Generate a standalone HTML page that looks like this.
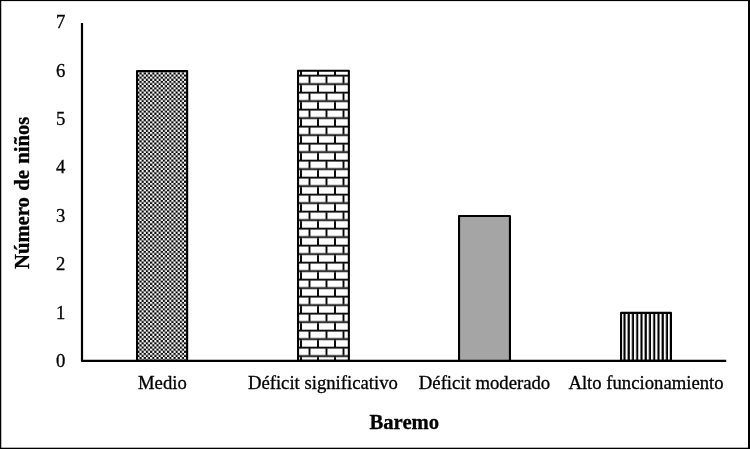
<!DOCTYPE html>
<html lang="es">
<head>
<meta charset="utf-8">
<title>Baremo</title>
<style>
  html, body { margin: 0; padding: 0; background: #fff; }
  body { width: 750px; height: 449px; overflow: hidden; }
  svg { display: block; }
  text { font-family: "Liberation Serif", "Times New Roman", serif; fill: #000; stroke: #000; stroke-width: 0.3px; font-variant-ligatures: none; }
  .tick { font-size: 18.7px; }
  .title { font-size: 20.7px; font-weight: bold; }
</style>
</head>
<body>
<svg width="750" height="449" viewBox="0 0 750 449">
  <defs>
    <!-- checkerboard -->
    <pattern id="chk" patternUnits="userSpaceOnUse" x="137.34" y="72.36" width="4.25" height="4.25">
      <rect x="0" y="0" width="4.25" height="4.25" fill="#fff"/>
      <rect x="2.125" y="0" width="2.125" height="2.125" fill="#000"/>
      <rect x="0" y="2.125" width="2.125" height="2.125" fill="#000"/>
    </pattern>
    <!-- bricks -->
    <pattern id="brk" patternUnits="userSpaceOnUse" x="298" y="56.7" width="17" height="17">
      <rect x="0" y="0" width="17" height="17" fill="#fff"/>
      <rect x="0" y="1" width="17" height="1.8" fill="#000"/>
      <rect x="0" y="9.5" width="17" height="1.8" fill="#000"/>
      <rect x="10.55" y="2.8" width="1.9" height="6.7" fill="#000"/>
      <rect x="2.05" y="11.3" width="1.9" height="5.7" fill="#000"/>
      <rect x="2.05" y="0" width="1.9" height="1" fill="#000"/>
    </pattern>
    <!-- vertical stripes -->
    <pattern id="vst" patternUnits="userSpaceOnUse" x="621.29" y="0" width="4.25" height="8">
      <rect x="0" y="0" width="4.25" height="8" fill="#000"/>
      <rect x="0" y="0" width="2.125" height="8" fill="#fff"/>
    </pattern>
  </defs>

  <rect x="0" y="0" width="750" height="449" fill="#fff"/>

  <!-- bars -->
  <rect x="137.05" y="71" width="50.1" height="290" fill="url(#chk)" stroke="#000" stroke-width="2.1" stroke-linejoin="round"/>
  <rect x="298.05" y="70.8" width="50.8" height="290" fill="url(#brk)" stroke="#000" stroke-width="2.1" stroke-linejoin="round"/>
  <rect x="459.05" y="216" width="50.9" height="145" fill="#a5a5a5" stroke="#000" stroke-width="2.1" stroke-linejoin="round"/>
  <rect x="621.05" y="312.9" width="49.9" height="48" fill="url(#vst)" stroke="#000" stroke-width="2.1" stroke-linejoin="round"/>

  <!-- axes -->
  <polyline points="82,23 82,360.9 726.2,360.9" fill="none" stroke="#000" stroke-width="2.2" stroke-linejoin="round"/>

  <!-- y tick labels -->
  <g class="tick" text-anchor="end">
    <text x="65.4" y="28.2">7</text>
    <text x="65.4" y="76.6">6</text>
    <text x="65.4" y="125.0">5</text>
    <text x="65.4" y="173.4">4</text>
    <text x="65.4" y="221.8">3</text>
    <text x="65.4" y="270.2">2</text>
    <text x="65.4" y="318.6">1</text>
    <text x="65.4" y="367.0">0</text>
  </g>

  <!-- x category labels -->
  <g class="tick" text-anchor="middle">
    <text x="162.4" y="389">Medio</text>
    <text x="322.9" y="389">Déficit significativo</text>
    <text x="484.5" y="389">Déficit moderado</text>
    <text x="646" y="389">Alto funcionamiento</text>
  </g>

  <!-- axis titles -->
  <text class="title" text-anchor="middle" x="404.3" y="428.6">Baremo</text>
  <text class="title" text-anchor="middle" word-spacing="1.1" transform="translate(28.7 192.85) rotate(-90)">Número de niños</text>

  <!-- outer frame -->
  <rect x="0" y="0" width="750" height="1.1" fill="#000"/>
  <rect x="0" y="0" width="1.25" height="449" fill="#000"/>
  <rect x="748" y="0" width="2" height="449" fill="#000"/>
  <rect x="0" y="447.7" width="750" height="1.3" fill="#000"/>
</svg>
</body>
</html>
